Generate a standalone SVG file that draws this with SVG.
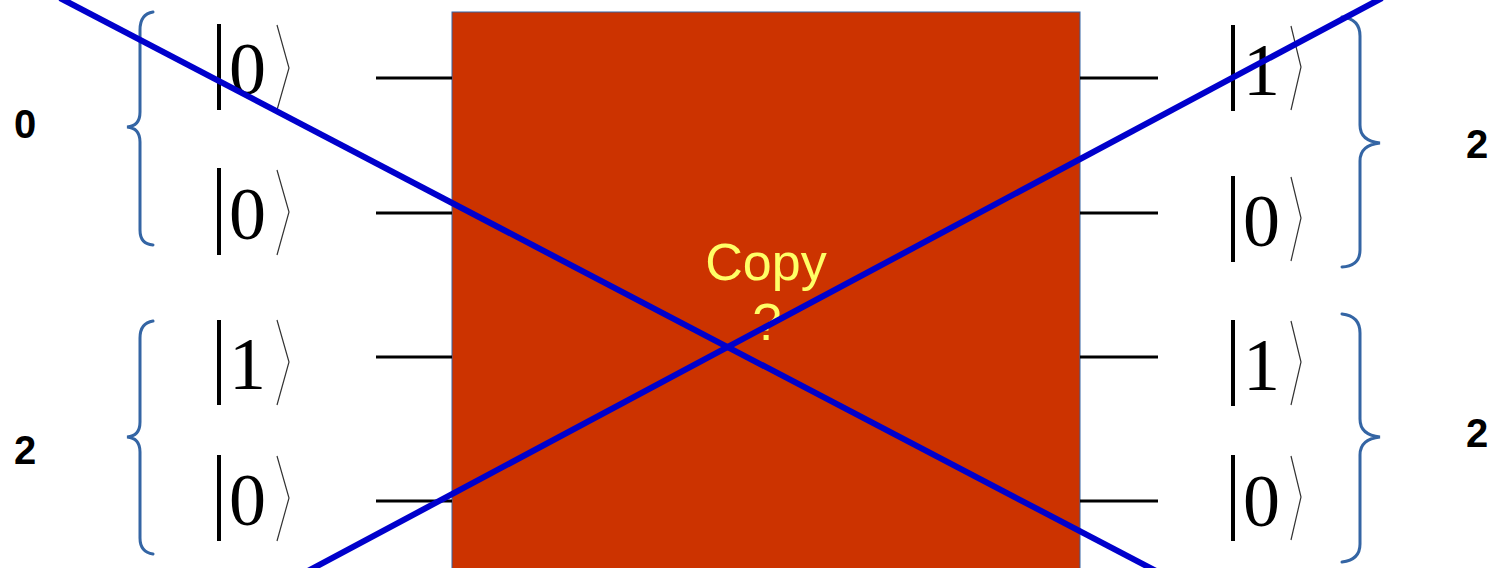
<svg xmlns="http://www.w3.org/2000/svg" width="1490" height="568" viewBox="0 0 1490 568">
<style>
.wire{stroke:#000;stroke-width:3}
.bar{stroke:#000;stroke-width:4}
.ang{stroke:#333;stroke-width:1.2;fill:none}
.digit{font-family:"Liberation Serif",serif;font-size:74px;fill:#000}
.brace{stroke:#3465a4;stroke-width:3;fill:none;stroke-linecap:round}
.num{font-family:"Liberation Sans",Arial,sans-serif;font-weight:bold;font-size:40px;fill:#000;text-anchor:middle}
.cross{stroke:#0000cc;stroke-width:6}
.copy{font-family:"Liberation Sans",Arial,sans-serif;font-size:52px;fill:#ffff66;text-anchor:middle}
</style>
<g id="box">
<rect x="452" y="12" width="628" height="570" fill="#cc3300" stroke="#3465a4" stroke-width="1"/>
<text class="copy" x="766" y="280">Copy</text>
<text class="copy" x="767" y="340">?</text>
</g>
<g id="wires">
<line class="wire" x1="376" y1="78" x2="452" y2="78"/>
<line class="wire" x1="376" y1="213" x2="452" y2="213"/>
<line class="wire" x1="376" y1="357" x2="452" y2="357"/>
<line class="wire" x1="376" y1="501" x2="452" y2="501"/>
<line class="wire" x1="1080" y1="78" x2="1158" y2="78"/>
<line class="wire" x1="1080" y1="213" x2="1158" y2="213"/>
<line class="wire" x1="1080" y1="357" x2="1158" y2="357"/>
<line class="wire" x1="1080" y1="501" x2="1158" y2="501"/>
</g>
<g id="ket-left-1">
<line class="bar" x1="219" y1="24" x2="219" y2="110"/>
<text class="digit" x="229" y="94">0</text>
<polyline class="ang" points="277,25 289,68 277,110"/>
</g>
<g id="ket-left-2">
<line class="bar" x1="219" y1="168" x2="219" y2="255"/>
<text class="digit" x="229" y="239">0</text>
<polyline class="ang" points="277,170 289,212 277,255"/>
</g>
<g id="ket-left-3">
<line class="bar" x1="219" y1="320" x2="219" y2="405"/>
<text class="digit" x="229" y="389">1</text>
<polyline class="ang" points="277,320 289,362 277,405"/>
</g>
<g id="ket-left-4">
<line class="bar" x1="219" y1="455" x2="219" y2="541"/>
<text class="digit" x="229" y="525">0</text>
<polyline class="ang" points="277,456 289,498 277,541"/>
</g>
<g id="ket-right-1">
<line class="bar" x1="1233" y1="25" x2="1233" y2="111"/>
<text class="digit" x="1243" y="95">1</text>
<polyline class="ang" points="1291,26 1301,67 1291,110"/>
</g>
<g id="ket-right-2">
<line class="bar" x1="1233" y1="176" x2="1233" y2="262"/>
<text class="digit" x="1243" y="246">0</text>
<polyline class="ang" points="1291,177 1301,218 1291,261"/>
</g>
<g id="ket-right-3">
<line class="bar" x1="1233" y1="320" x2="1233" y2="406"/>
<text class="digit" x="1243" y="390">1</text>
<polyline class="ang" points="1291,321 1301,362 1291,405"/>
</g>
<g id="ket-right-4">
<line class="bar" x1="1233" y1="455" x2="1233" y2="541"/>
<text class="digit" x="1243" y="526">0</text>
<polyline class="ang" points="1291,456 1301,497 1291,540"/>
</g>
<g id="braces">
<path class="brace" d="M153,12 Q140,14 140,30 L140,112 Q140,126 127,127 Q140,128 140,142 L140,230 Q140,244 153,245"/>
<path class="brace" d="M153,321 Q140,323 140,338 L140,422 Q140,436 127,437 Q140,438 140,452 L140,538 Q140,552 153,554"/>
<path class="brace" d="M1342,17 Q1360,19 1360,36 L1360,125 Q1360,141 1380,143 Q1360,145 1360,161 L1360,250 Q1360,266 1342,267"/>
<path class="brace" d="M1342,314 Q1360,316 1360,333 L1360,419 Q1360,435 1380,437 Q1360,439 1360,455 L1360,544 Q1360,560 1342,562"/>
</g>
<g id="labels">
<text class="num" x="25" y="138">0</text>
<text class="num" x="25" y="464">2</text>
<text class="num" x="1477" y="158">2</text>
<text class="num" x="1477" y="447">2</text>
</g>
<g id="cross">
<line class="cross" x1="60" y1="-2" x2="1158" y2="572"/>
<line class="cross" x1="306" y1="572" x2="1382" y2="-2"/>
</g>
</svg>
